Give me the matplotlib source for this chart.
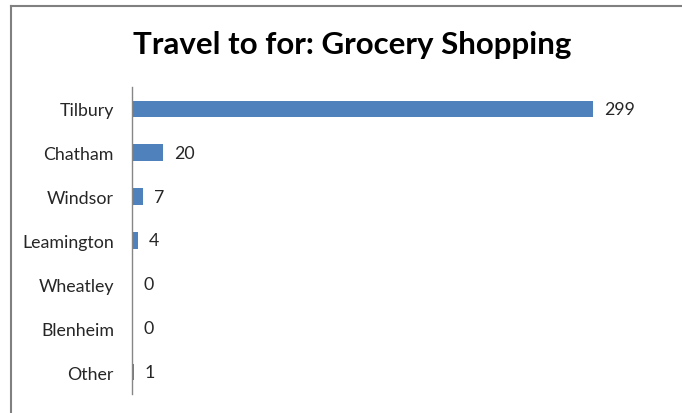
import matplotlib.pyplot as plt
from matplotlib.lines import Line2D

# Destinations and counts, top to bottom
places = ['Tilbury', 'Chatham', 'Windsor', 'Leamington', 'Wheatley', 'Blenheim', 'Other']
counts = [299, 20, 7, 4, 0, 0, 1]

bar_color = '#4F81BD'
text_color = '#262626'

plt.rcParams['font.family'] = ['Lato', 'DejaVu Sans']

fig = plt.figure(figsize=(6.82, 4.14), dpi=100)
ax = fig.add_axes([132 / 682, 19 / 414, 540 / 682, 307 / 414])

y = list(range(len(places)))
ax.barh(y, counts, height=0.38, color=bar_color)
for yi, v in zip(y, counts):
    ax.annotate(str(v), (v, yi), xytext=(8, 0), textcoords='offset points',
                va='center', ha='left', fontsize=12.8, color=text_color)

ax.set_ylim(len(places) - 0.5, -0.5)
ax.set_xlim(0, 350)
ax.set_yticks(y)
ax.set_yticklabels(places, fontsize=12.8, color=text_color)
ax.tick_params(axis='y', length=0, pad=13)
ax.set_xticks([])
for side in ['top', 'right', 'bottom']:
    ax.spines[side].set_visible(False)
ax.spines['left'].set_color('#868686')
ax.spines['left'].set_linewidth(1)

fig.text(352 / 682, 1 - 45 / 414, 'Travel to for: Grocery Shopping',
         ha='center', va='center', fontsize=22.5, fontweight='bold', color='black')

# chart frame, only top and left edges fall inside the image
fig.add_artist(Line2D([10.5 / 682, 1], [1 - 6.5 / 414, 1 - 6.5 / 414],
                      color='#808080', lw=1.5, transform=fig.transFigure))
fig.add_artist(Line2D([10.5 / 682, 10.5 / 682], [0, 1 - 6.5 / 414],
                      color='#808080', lw=1.5, transform=fig.transFigure))

fig.savefig('out.png', dpi=100)
